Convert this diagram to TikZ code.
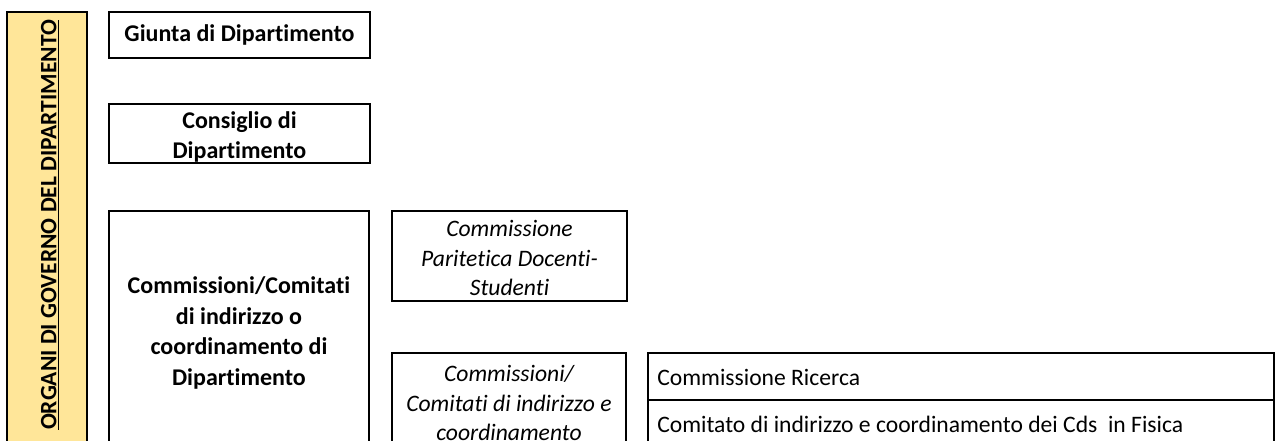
\documentclass[tikz,border=0pt]{standalone}
\usepackage{fontspec}
\setmainfont{Carlito}[Ligatures=NoCommon]
\definecolor{gold}{HTML}{FFE699}
\begin{document}
\begin{tikzpicture}[x=0.75pt,y=-0.75pt,
  box/.style={draw=black,line width=2.2pt},
  bt/.style={align=center,font=\fontsize{18}{23}\selectfont\bfseries,inner sep=0pt},
  it/.style={align=center,font=\fontsize{17.7}{21.8}\selectfont\itshape,inner sep=0pt},
  rt/.style={anchor=west,font=\fontsize{17.7}{21}\selectfont,inner sep=0pt}]
\useasboundingbox (0,0) rectangle (1275,441);
\clip (0,0) rectangle (1275,441);
% side band
\draw[box,fill=gold] (7,12) rectangle (87,470);
\node[rotate=90,font=\fontsize{17.6}{21}\selectfont\bfseries,inner sep=0pt] (side) at (50,225) {\underline{ORGANI DI GOVERNO DEL DIPARTIMENTO}};
% left column
\draw[box] (109,12) rectangle (370,58);
\node[bt] (giunta) at (239.5,35) {Giunta di Dipartimento};
\draw[box] (109,104) rectangle (370,163);
\node[bt] (consiglio) at (239.5,137) {Consiglio di\\Dipartimento};
\draw[box] (109,211) rectangle (369,484);
\node[bt] (comm) at (239,333) {Commissioni/Comitati\\di indirizzo o\\coordinamento di\\Dipartimento};
% middle column
\draw[box] (392,211) rectangle (627,301);
\node[it] (parit) at (509.5,258) {Commissione\\Paritetica Docenti-\\Studenti};
\draw[box] (392,353) rectangle (626,470);
\node[it] (commi) at (509,403) {Commissioni/\\Comitati di indirizzo e\\coordinamento};
% right table
\draw[box] (648,353) rectangle (1274,400);
\draw[box] (648,400) rectangle (1274,447);
\node[rt] (ricerca) at (657,377) {Commissione Ricerca};
\node[rt] (cds) at (657,424) {Comitato di indirizzo e coordinamento dei Cds\ \ in Fisica};
\end{tikzpicture}
\end{document}
